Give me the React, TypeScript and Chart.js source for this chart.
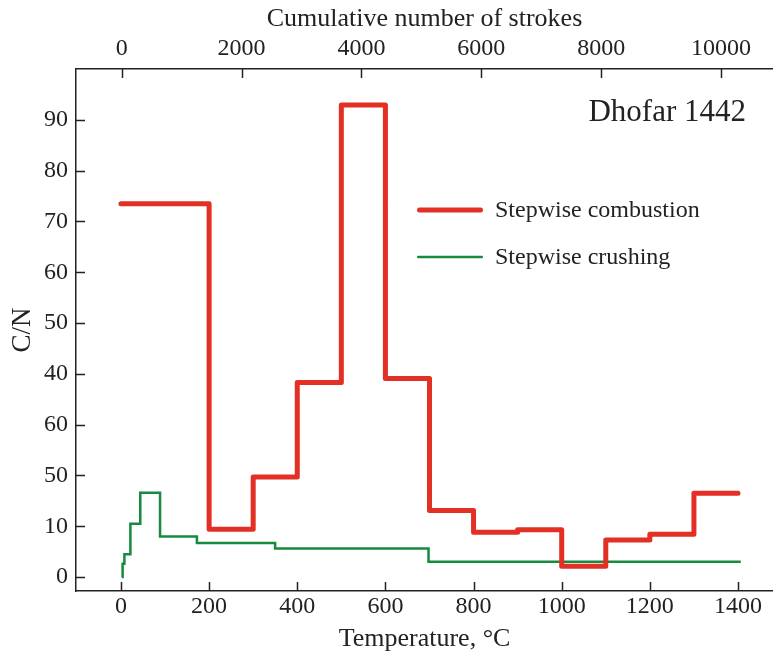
import React, { useEffect, useRef } from 'react';
import { Chart, registerables } from 'chart.js';

Chart.register(...registerables);

// Stepwise combustion: temperature step start (°C) and C/N value
const combustionTemp = [0, 200, 300, 400, 500, 600, 700, 800, 900, 1000, 1100, 1200, 1300, 1400];
const combustionCN = [73.5, 9.4, 19.7, 38.3, 92.9, 39.1, 13.1, 8.8, 9.3, 2.1, 7.3, 8.4, 16.5, 16.5];

// Stepwise crushing: cumulative strokes and C/N value
const crushingStrokes = [0, 15, 45, 145, 310, 640, 1255, 2560, 5120, 10330];
const crushingCN = [0, 2.6, 4.5, 10.5, 16.6, 8.0, 6.7, 5.6, 3.0, 3.0];

const tempTicks = [0, 200, 400, 600, 800, 1000, 1200, 1400];
const strokeTicks = [0, 2000, 4000, 6000, 8000, 10000];
const cnTickValues = [0, 10, 20, 30, 40, 50, 60, 70, 80, 90];
const cnTickLabels = ['0', '10', '50', '60', '40', '50', '60', '70', '80', '90'];

const seriesNames = ['Stepwise combustion', 'Stepwise crushing'];
const sampleName = 'Dhofar 1442';

const RED = 'rgb(226,48,36)';
const GREEN = 'rgb(22,138,62)';
const INK = '#222';
const FONT = "'Liberation Serif', 'Times New Roman', serif";

// value -> segment start; a value holds until the next point
const toSteps = (xs: number[], ys: number[]) => {
  const pts: { x: number; y: number }[] = [];
  xs.forEach((x, i) => {
    if (i > 0) pts.push({ x, y: ys[i - 1] });
    pts.push({ x, y: ys[i] });
  });
  return pts;
};

const decor = {
  id: 'decor',
  afterDraw(chart: any) {
    const ctx = chart.ctx;
    const { x, x2, y } = chart.scales;
    const a = chart.chartArea;
    ctx.save();
    ctx.strokeStyle = INK;
    ctx.lineWidth = 1.5;
    ctx.beginPath();
    const L = 9;
    x.ticks.forEach((t: any) => {
      const p = Math.round(x.getPixelForValue(t.value)) + 0.5;
      ctx.moveTo(p, a.bottom);
      ctx.lineTo(p, a.bottom - L);
    });
    x2.ticks.forEach((t: any) => {
      const p = Math.round(x2.getPixelForValue(t.value)) + 0.5;
      ctx.moveTo(p, a.top);
      ctx.lineTo(p, a.top + L);
    });
    y.ticks.forEach((t: any) => {
      const p = Math.round(y.getPixelForValue(t.value)) + 0.5;
      ctx.moveTo(a.left, p);
      ctx.lineTo(a.left + L, p);
    });
    ctx.stroke();

    // sample name
    ctx.fillStyle = INK;
    ctx.font = `31px ${FONT}`;
    ctx.textAlign = 'right';
    ctx.textBaseline = 'alphabetic';
    ctx.fillText(sampleName, 746, 121);

    // legend
    const ds = chart.data.datasets;
    const rows = [
      { y: 210, base: 217 },
      { y: 257, base: 264 },
    ];
    ds.forEach((d: any, i: number) => {
      ctx.strokeStyle = d.borderColor;
      ctx.lineWidth = d.borderWidth;
      ctx.lineCap = 'round';
      ctx.beginPath();
      const r = d.borderWidth / 2;
      ctx.moveTo(417 + r, rows[i].y);
      ctx.lineTo(483 - r, rows[i].y);
      ctx.stroke();
      ctx.fillStyle = INK;
      ctx.font = `24px ${FONT}`;
      ctx.textAlign = 'left';
      ctx.fillText(d.label, 495, rows[i].base);
    });
    ctx.restore();
  },
};

export default function App() {
  const ref = useRef<HTMLCanvasElement | null>(null);
  useEffect(() => {
    if (!ref.current) return;
    const chart = new Chart(ref.current, {
      type: 'line',
      data: {
        datasets: [
          {
            label: seriesNames[0],
            data: toSteps(combustionTemp, combustionCN),
            xAxisID: 'x',
            yAxisID: 'y',
            borderColor: RED,
            borderWidth: 5,
            pointRadius: 0,
            tension: 0,
            borderJoinStyle: 'round',
            borderCapStyle: 'round',
            fill: false,
          },
          {
            label: seriesNames[1],
            data: toSteps(crushingStrokes, crushingCN),
            xAxisID: 'x2',
            yAxisID: 'y',
            borderColor: GREEN,
            borderWidth: 2.5,
            pointRadius: 0,
            tension: 0,
            borderJoinStyle: 'miter',
            fill: false,
          },
        ],
      },
      options: {
        responsive: false,
        animation: false,
        devicePixelRatio: 1,
        layout: { padding: 0 },
        plugins: { legend: { display: false }, tooltip: { enabled: false }, title: { display: false } },
        scales: {
          x: {
            type: 'linear',
            position: 'bottom',
            min: -102,
            max: 1479.4,
            afterBuildTicks: (s: any) => { s.ticks = tempTicks.map((v) => ({ value: v })); },
            afterFit: (s: any) => { s.height = 67; },
            grid: { display: false, drawTicks: false },
            border: { display: true, color: INK, width: 1.5 },
            ticks: { color: INK, font: { family: FONT, size: 24 }, padding: 1, maxRotation: 0, autoSkip: false, callback: (v: any) => String(v) },
            title: { display: true, text: 'Temperature, °C', color: INK, font: { family: FONT, size: 26 }, padding: { top: 0, bottom: 3 } },
          },
          x2: {
            type: 'linear',
            position: 'top',
            min: -762.6,
            max: 10868,
            afterBuildTicks: (s: any) => { s.ticks = strokeTicks.map((v) => ({ value: v })); },
            afterFit: (s: any) => { s.height = 69; },
            grid: { display: false, drawTicks: false },
            border: { display: true, color: INK, width: 1.5 },
            ticks: { color: INK, font: { family: FONT, size: 24 }, padding: 6, maxRotation: 0, autoSkip: false, callback: (v: any) => String(v) },
            title: { display: true, text: 'Cumulative number of strokes', color: INK, font: { family: FONT, size: 26 }, padding: { top: 4, bottom: 0 } },
          },
          y: {
            type: 'linear',
            position: 'left',
            min: -2.75,
            max: 100,
            afterBuildTicks: (s: any) => { s.ticks = cnTickValues.map((v) => ({ value: v })); },
            afterFit: (s: any) => { s.width = 76; },
            grid: { display: false, drawTicks: false },
            border: { display: true, color: INK, width: 1.5 },
            ticks: {
              color: INK,
              font: { family: FONT, size: 24 },
              padding: 8,
              autoSkip: false,
              callback: (_v: any, i: number) => cnTickLabels[i],
            },
            title: { display: true, text: 'C/N', color: INK, font: { family: FONT, size: 27 }, padding: { top: 7, bottom: 0 } },
          },
        },
      },
      plugins: [decor],
    } as any);
    return () => chart.destroy();
  }, []);

  return (
    <div style={{ position: 'absolute', left: 0, top: 0, width: 773, height: 658, background: '#fff' }}>
      <canvas ref={ref} width={773} height={658} />
    </div>
  );
}
